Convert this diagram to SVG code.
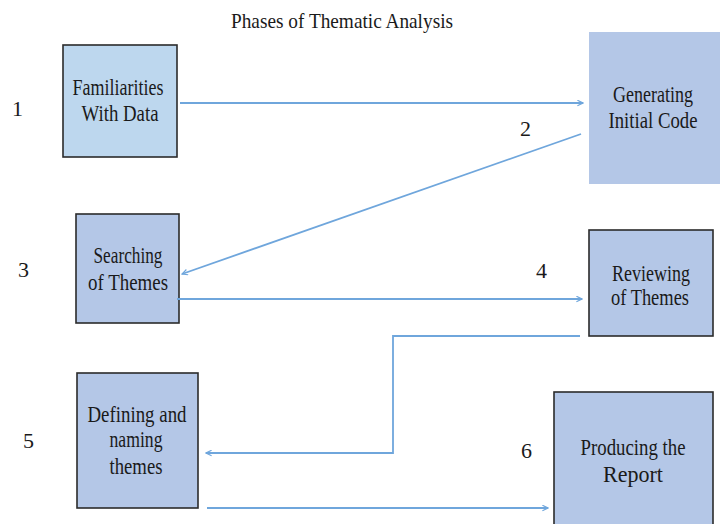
<svg xmlns="http://www.w3.org/2000/svg" width="722" height="524" viewBox="0 0 722 524">
  <style>
    text { font-family: 'Liberation Serif', 'Times New Roman', 'DejaVu Serif', serif; fill: #1a1a1a; }
    .lbl { font-size: 23px; text-anchor: middle; }
    .num { font-size: 22px; }
    .title { font-size: 22px; }
    .box { fill: #b4c7e7; stroke: #2b2b2b; stroke-width: 1.6; }
    .box-light { fill: #bdd7ee; stroke: #2b2b2b; stroke-width: 1.6; }
    .box-plain { fill: #b4c7e7; stroke: none; }
    .conn { fill: none; stroke: #6fa6dc; stroke-width: 1.8; }
  </style>
  <defs>
    <marker id="arrow" viewBox="0 0 10 10" refX="9" refY="5" markerWidth="7" markerHeight="7" markerUnits="userSpaceOnUse" orient="auto">
      <polyline points="1,1 9,5 1,9" fill="none" stroke="#6fa6dc" stroke-width="1.6"/>
    </marker>
  </defs>

  <rect width="722" height="524" fill="#ffffff"/>

  <text class="title" font-family="Liberation Serif, serif" x="231" y="28" textLength="222" lengthAdjust="spacingAndGlyphs">Phases of  Thematic Analysis</text>

  <!-- phase numbers -->
  <g id="numbers" font-family="Liberation Serif, serif">
    <text class="num" x="12" y="116">1</text>
    <text class="num" x="520" y="136">2</text>
    <text class="num" x="18" y="277">3</text>
    <text class="num" x="536" y="278">4</text>
    <text class="num" x="23" y="448">5</text>
    <text class="num" x="521" y="458">6</text>
  </g>

  <g id="n1" font-family="Liberation Serif, serif">
    <rect class="box-light" x="63" y="45" width="114" height="112"/>
    <text class="lbl" x="118" y="95" textLength="91" lengthAdjust="spacingAndGlyphs">Familiarities</text>
    <text class="lbl" x="120" y="121" textLength="77" lengthAdjust="spacingAndGlyphs">With Data</text>
  </g>

  <g id="n2" font-family="Liberation Serif, serif">
    <rect class="box-plain" x="589" y="32" width="131" height="152"/>
    <text class="lbl" x="653" y="102" textLength="80" lengthAdjust="spacingAndGlyphs">Generating</text>
    <text class="lbl" x="653" y="128" textLength="89" lengthAdjust="spacingAndGlyphs">Initial Code</text>
  </g>

  <g id="n3" font-family="Liberation Serif, serif">
    <rect class="box" x="76" y="214" width="103" height="109"/>
    <text class="lbl" x="128" y="263" textLength="69" lengthAdjust="spacingAndGlyphs">Searching</text>
    <text class="lbl" x="128" y="290" textLength="80" lengthAdjust="spacingAndGlyphs">of Themes</text>
  </g>

  <g id="n4" font-family="Liberation Serif, serif">
    <rect class="box" x="589" y="230" width="124" height="106"/>
    <text class="lbl" x="651" y="281" textLength="78" lengthAdjust="spacingAndGlyphs">Reviewing</text>
    <text class="lbl" x="650" y="305" textLength="78" lengthAdjust="spacingAndGlyphs">of Themes</text>
  </g>

  <g id="n5" font-family="Liberation Serif, serif">
    <rect class="box" x="77" y="373" width="121" height="135"/>
    <text class="lbl" x="137" y="422" textLength="99" lengthAdjust="spacingAndGlyphs">Defining and</text>
    <text class="lbl" x="136" y="447" textLength="53" lengthAdjust="spacingAndGlyphs">naming</text>
    <text class="lbl" x="136" y="474" textLength="53" lengthAdjust="spacingAndGlyphs">themes</text>
  </g>

  <g id="n6" font-family="Liberation Serif, serif">
    <rect class="box" x="554" y="392" width="159" height="140"/>
    <text class="lbl" x="633" y="455" textLength="105" lengthAdjust="spacingAndGlyphs">Producing the</text>
    <text class="lbl" x="633" y="482" textLength="60" lengthAdjust="spacingAndGlyphs">Report</text>
  </g>

  <g id="connectors">
    <line class="conn" x1="180" y1="103" x2="583" y2="103" marker-end="url(#arrow)"/>
    <line class="conn" x1="581" y1="134" x2="182" y2="274" marker-end="url(#arrow)"/>
    <line class="conn" x1="177" y1="299" x2="582" y2="299" marker-end="url(#arrow)"/>
    <polyline class="conn" points="580,336 393,336 393,453 206,453" marker-end="url(#arrow)"/>
    <line class="conn" x1="207" y1="508" x2="548" y2="508" marker-end="url(#arrow)"/>
  </g>
</svg>
